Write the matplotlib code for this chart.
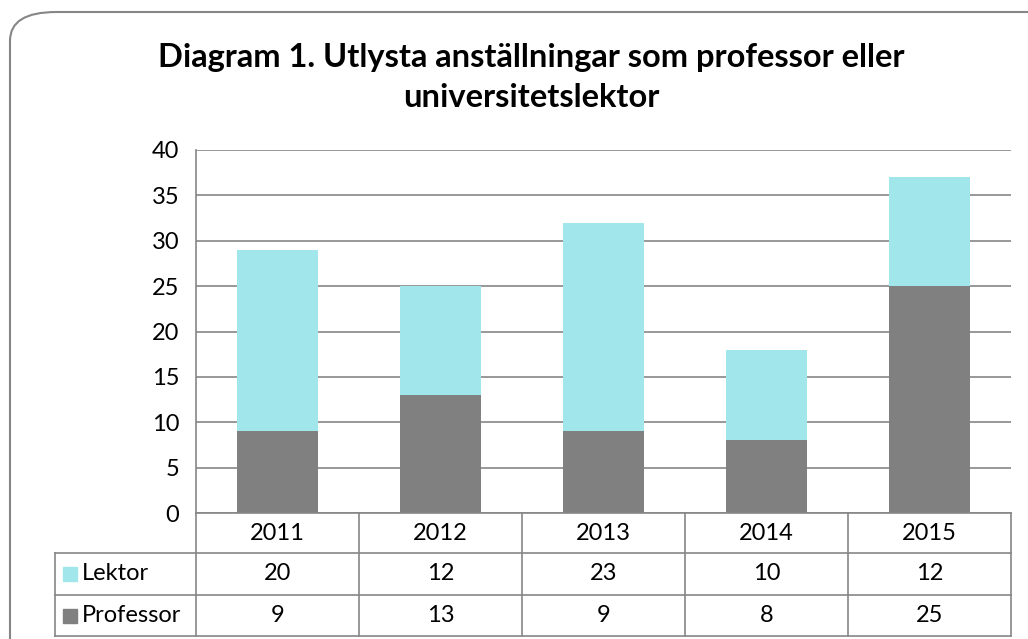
import matplotlib.pyplot as plt
from matplotlib.patches import FancyBboxPatch, Rectangle
from matplotlib.lines import Line2D

years = ["2011", "2012", "2013", "2014", "2015"]
lektor = [20, 12, 23, 10, 12]
professor = [9, 13, 9, 8, 25]

plt.rcParams['font.family'] = ['Lato', 'DejaVu Sans']

W, H = 1028, 639
fig = plt.figure(figsize=(W / 100, H / 100), dpi=100)


def fx(px):
    return px / W


def fy(py):
    return 1 - py / H


# rounded chart border
fig.add_artist(FancyBboxPatch((fx(10), fy(700)), fx(1100), fy(12) - fy(700),
                              boxstyle="round,pad=0,rounding_size=0.045",
                              transform=fig.transFigure, facecolor="none",
                              edgecolor="#868686", linewidth=1.5))

left, right, top, bottom = 196, 1011, 150, 513
ax = fig.add_axes([fx(left), fy(bottom), fx(right) - fx(left), fy(top) - fy(bottom)])

x = range(len(years))
ax.bar(x, professor, width=0.5, color="#808080", label="Professor")
ax.bar(x, lektor, width=0.5, bottom=professor, color="#A0E6EA", label="Lektor")
ax.set_xlim(-0.5, 4.5)
ax.set_ylim(0, 40)
ax.set_yticks(range(0, 41, 5))
ax.yaxis.grid(True, color="#868686", linewidth=1.2)
ax.set_axisbelow(True)
ax.set_xticks([])
ax.tick_params(axis="y", length=0, labelsize=17, pad=12)
for s in ["top", "right", "bottom"]:
    ax.spines[s].set_visible(False)
ax.spines["left"].set_color("#868686")
ax.spines["left"].set_linewidth(1.2)

fig.suptitle("Diagram 1. Utlysta anställningar som professor eller\nuniversitetslektor",
             fontsize=23.5, fontweight="bold", y=fy(43), va="top", x=fx(531),
             linespacing=1.45)

# data table
col_w = (right - left) / len(years)
rows = [513, 553, 595, 636]
lc = "#868686"


def hline(y, x0, x1):
    fig.add_artist(Line2D([fx(x0), fx(x1)], [fy(y), fy(y)], color=lc, lw=1.2,
                          transform=fig.transFigure))


def vline(xp, y0, y1):
    fig.add_artist(Line2D([fx(xp), fx(xp)], [fy(y0), fy(y1)], color=lc, lw=1.2,
                          transform=fig.transFigure))


hline(rows[0], left, right)
for r in rows[1:]:
    hline(r, 55, right)
vline(55, rows[1], rows[3])
for i in range(len(years) + 1):
    vline(left + i * col_w, rows[0], rows[3])

fs = 17
for i, yr in enumerate(years):
    cx = fx(left + (i + 0.5) * col_w)
    fig.text(cx, fy((rows[0] + rows[1]) / 2), yr, ha="center", va="center", fontsize=fs)
    fig.text(cx, fy((rows[1] + rows[2]) / 2), str(lektor[i]), ha="center", va="center", fontsize=fs)
    fig.text(cx, fy((rows[2] + rows[3]) / 2), str(professor[i]), ha="center", va="center", fontsize=fs)

for (name, col), (r0, r1) in zip([("Lektor", "#A0E6EA"), ("Professor", "#808080")],
                                  [(rows[1], rows[2]), (rows[2], rows[3])]):
    cy = (r0 + r1) / 2
    fig.add_artist(Rectangle((fx(63), fy(cy + 7)), fx(14), fy(cy - 7) - fy(cy + 7),
                             transform=fig.transFigure, color=col))
    fig.text(fx(82), fy(cy), name, ha="left", va="center", fontsize=fs)

fig.savefig("out.png", dpi=100)
